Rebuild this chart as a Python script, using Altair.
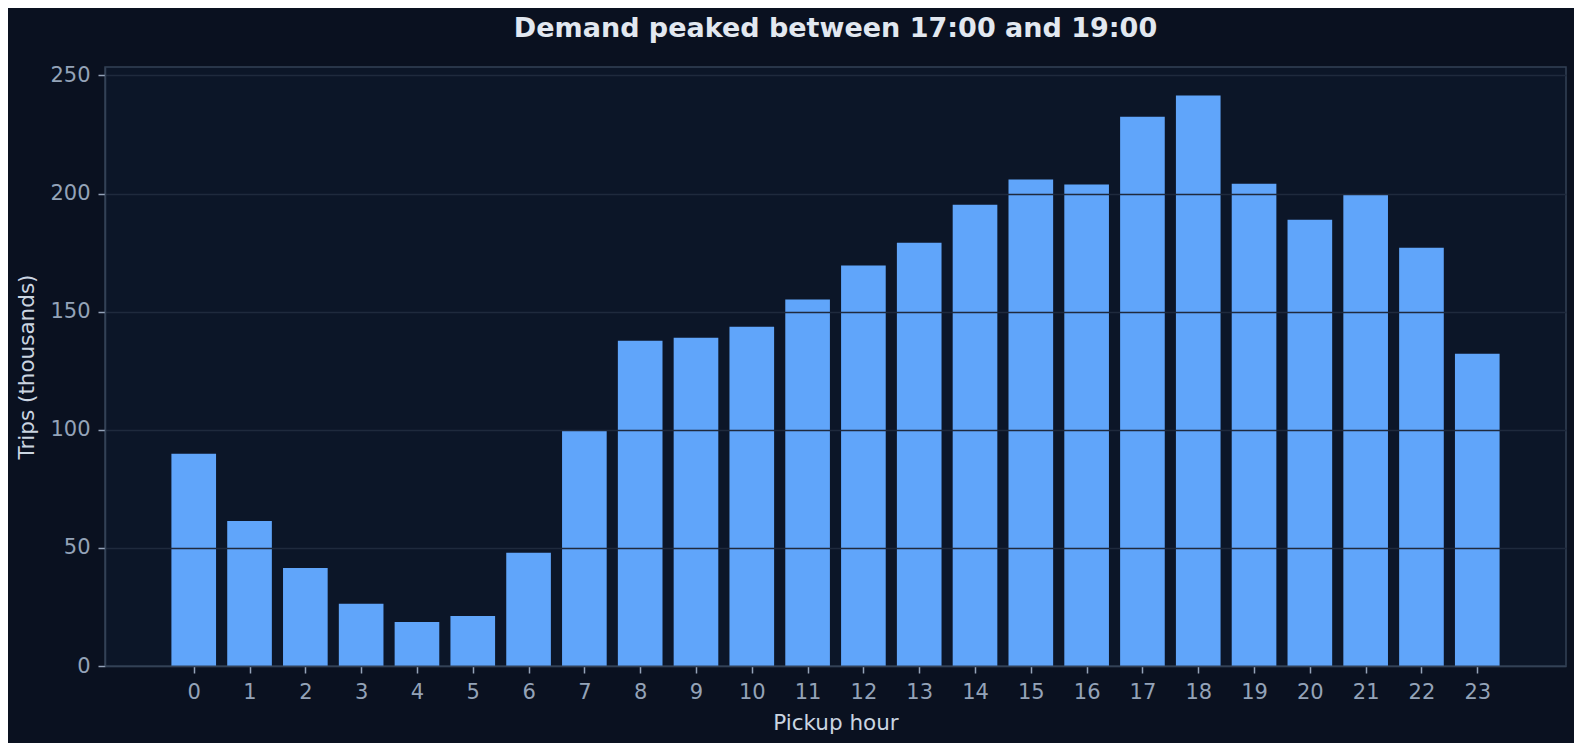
import altair as alt
import pandas as pd

hours = list(range(24))
trips = [89.8, 61.4, 41.5, 26.3, 18.6, 21.2, 47.9, 99.6, 137.7, 139.0, 143.6, 155.1,
         169.5, 179.2, 195.3, 205.9, 203.8, 232.5, 241.5, 204.2, 188.9, 199.5, 177.1, 132.2]
y_ticks = [0, 50, 100, 150, 200, 250]

df = pd.DataFrame({"hour": hours, "trips": trips})

x_dom = [-1.59, 24.59]
y_dom = [0, max(trips) * 1.05]

FONT = "DejaVu Sans"

chart = (
    alt.Chart(df)
    .transform_calculate(x0="datum.hour - 0.4", x1="datum.hour + 0.4")
    .mark_bar(color="#60a5fa", opacity=1)
    .encode(
        x=alt.X(
            "x0:Q",
            scale=alt.Scale(domain=x_dom, nice=False, zero=False),
            axis=alt.Axis(
                title="Pickup hour",
                values=hours,
                format="d",
                grid=False,
                labelPadding=8,
                titlePadding=10,
                zindex=1,
            ),
        ),
        x2="x1:Q",
        y=alt.Y(
            "trips:Q",
            scale=alt.Scale(domain=y_dom, nice=False),
            axis=alt.Axis(
                title="Trips (thousands)",
                values=y_ticks,
                grid=True,
                labelPadding=8,
                titlePadding=11,
                zindex=1,
            ),
        ),
        y2=alt.datum(0),
    )
    .properties(
        width=1461,
        height=599,
        autosize=alt.AutoSizeParams(type="none"),
        padding={"left": 97, "top": 59, "right": 8, "bottom": 77},
        title=alt.TitleParams(
            "Demand peaked between 17:00 and 19:00",
            anchor="middle",
            frame="group",
            baseline="alphabetic",
            offset=0,
            font=FONT,
            fontSize=27,
            fontWeight="bold",
            color="#e2e8f0",
        ),
    )
    .configure(background="#0a1120")
    .configure_view(fill="#0c1628", stroke="#334155", strokeWidth=1.5)
    .configure_axis(
        labelFont=FONT,
        titleFont=FONT,
        labelFontSize=21,
        titleFontSize=21.5,
        titleFontWeight="normal",
        labelColor="#94a3b8",
        titleColor="#cbd5e1",
        tickColor="#94a3b8",
        tickSize=7,
        tickWidth=1.5,
        domain=True,
        domainColor="#334155",
        domainWidth=1.5,
        gridColor="#1f2a3d",
        gridWidth=1.5,
    )
)

chart.save("out.html", embed_options={"renderer": "svg", "actions": False})
